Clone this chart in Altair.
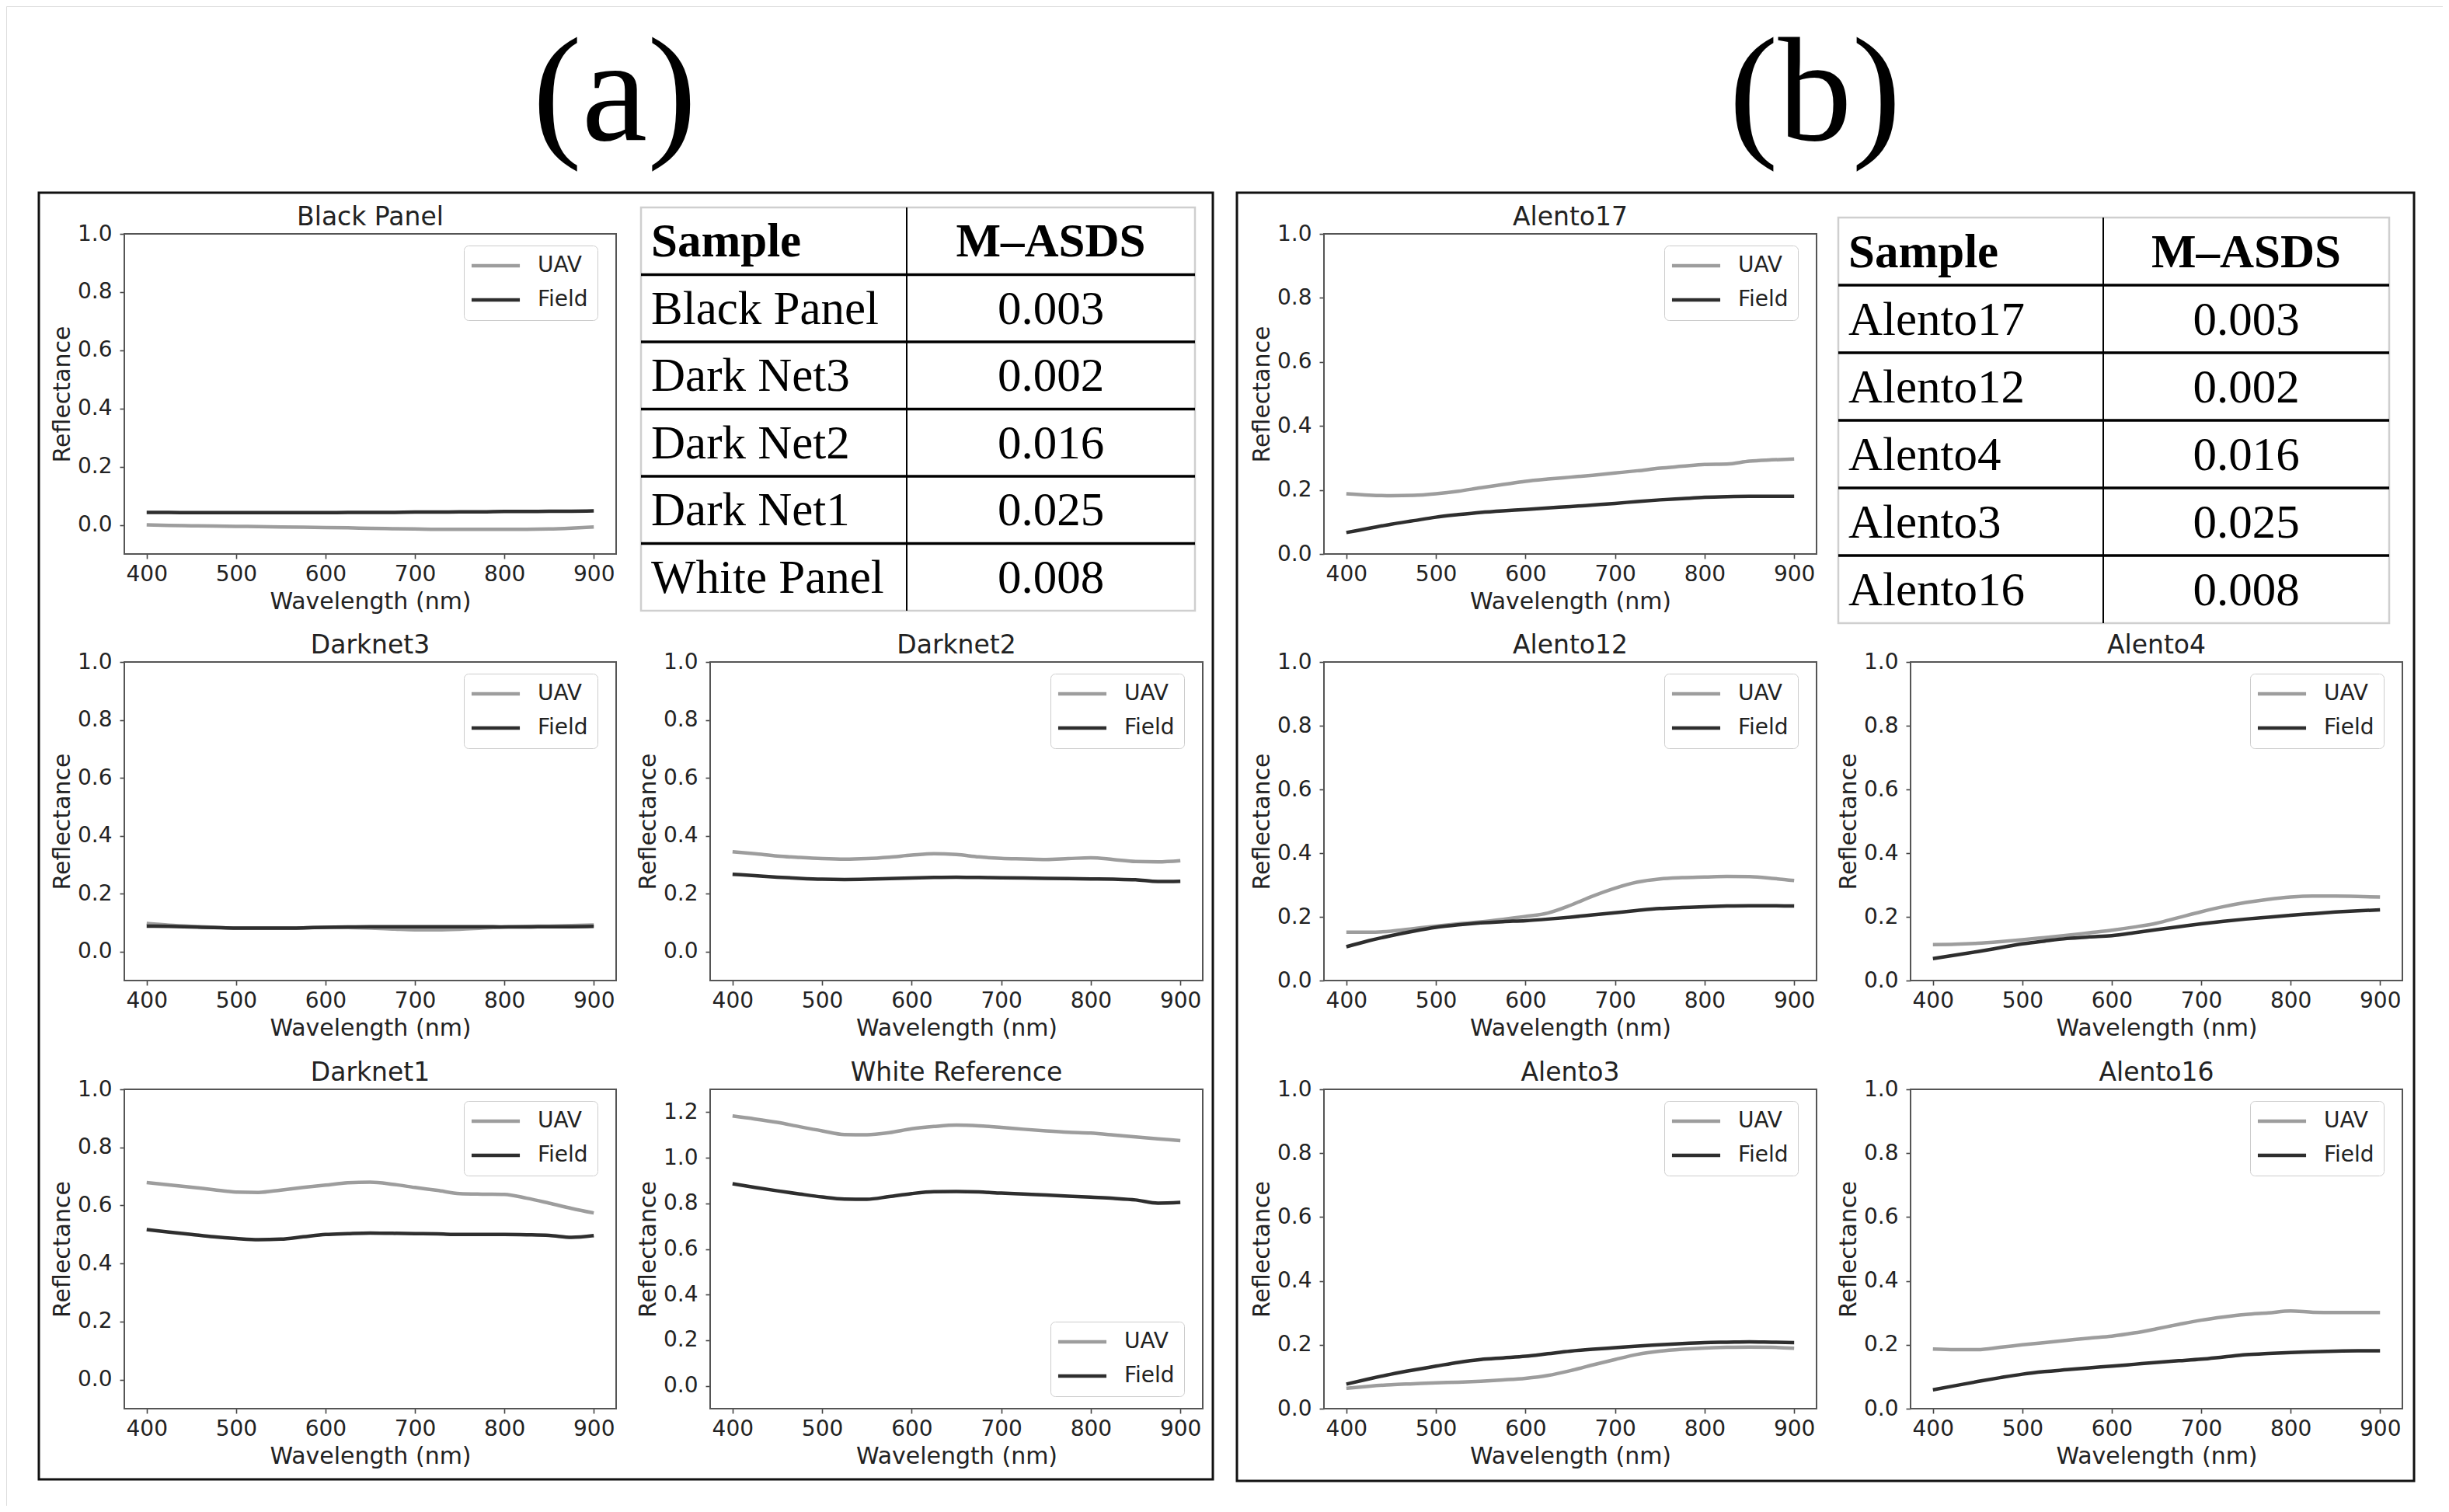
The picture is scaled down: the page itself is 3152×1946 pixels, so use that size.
import altair as alt
import pandas as pd

# ---------------- data ----------------
wavelength = list(range(400, 901, 25))

black_uav = [0.000, -0.002, -0.003, -0.004, -0.005, -0.006, -0.007, -0.008, -0.009, -0.010, -0.012,
             -0.013, -0.014, -0.015, -0.015, -0.015, -0.015, -0.015, -0.014, -0.011, -0.007]
black_field = [0.043, 0.043, 0.042, 0.042, 0.042, 0.042, 0.042, 0.042, 0.042, 0.043, 0.043,
               0.043, 0.044, 0.044, 0.045, 0.045, 0.046, 0.046, 0.047, 0.047, 0.048]

dn3_uav = [0.097, 0.091, 0.087, 0.084, 0.081, 0.081, 0.081, 0.082, 0.084, 0.083, 0.081,
           0.078, 0.075, 0.075, 0.077, 0.081, 0.085, 0.087, 0.088, 0.090, 0.092]
dn3_field = [0.088, 0.087, 0.085, 0.083, 0.081, 0.081, 0.081, 0.082, 0.084, 0.085, 0.086,
             0.086, 0.086, 0.086, 0.086, 0.086, 0.085, 0.085, 0.086, 0.086, 0.087]

dn2_uav = [0.345, 0.338, 0.330, 0.325, 0.321, 0.319, 0.321, 0.326, 0.333, 0.338, 0.335,
           0.327, 0.322, 0.320, 0.318, 0.321, 0.324, 0.318, 0.311, 0.310, 0.314]
dn2_field = [0.267, 0.262, 0.257, 0.253, 0.250, 0.249, 0.250, 0.252, 0.254, 0.256, 0.257,
             0.256, 0.255, 0.254, 0.253, 0.252, 0.251, 0.250, 0.248, 0.242, 0.243]

dn1_uav = [0.679, 0.671, 0.663, 0.654, 0.646, 0.645, 0.653, 0.662, 0.670, 0.678, 0.680,
           0.673, 0.662, 0.652, 0.641, 0.639, 0.638, 0.625, 0.608, 0.590, 0.574]
dn1_field = [0.517, 0.508, 0.500, 0.492, 0.486, 0.482, 0.484, 0.492, 0.500, 0.503, 0.505,
             0.504, 0.503, 0.502, 0.500, 0.500, 0.500, 0.499, 0.497, 0.490, 0.496]

white_uav = [1.183, 1.170, 1.155, 1.136, 1.118, 1.102, 1.101, 1.110, 1.127, 1.137, 1.143,
             1.140, 1.133, 1.125, 1.118, 1.112, 1.108, 1.100, 1.091, 1.083, 1.075]
white_field = [0.886, 0.870, 0.855, 0.841, 0.828, 0.819, 0.818, 0.830, 0.843, 0.851, 0.852,
               0.850, 0.845, 0.841, 0.837, 0.832, 0.827, 0.822, 0.815, 0.801, 0.804]

a17_uav = [0.188, 0.184, 0.182, 0.183, 0.188, 0.196, 0.207, 0.217, 0.227, 0.234, 0.240,
           0.246, 0.253, 0.260, 0.268, 0.274, 0.280, 0.281, 0.290, 0.294, 0.297]
a17_field = [0.067, 0.080, 0.093, 0.104, 0.115, 0.123, 0.130, 0.135, 0.139, 0.144, 0.148,
             0.153, 0.158, 0.164, 0.169, 0.173, 0.177, 0.179, 0.180, 0.180, 0.180]

a12_uav = [0.152, 0.152, 0.155, 0.163, 0.171, 0.178, 0.184, 0.192, 0.201, 0.212, 0.236,
           0.265, 0.290, 0.309, 0.319, 0.323, 0.325, 0.327, 0.326, 0.321, 0.314]
a12_field = [0.106, 0.125, 0.141, 0.155, 0.167, 0.175, 0.181, 0.185, 0.188, 0.193, 0.199,
             0.206, 0.213, 0.220, 0.226, 0.229, 0.232, 0.234, 0.235, 0.235, 0.234]

a4_uav = [0.113, 0.114, 0.117, 0.122, 0.128, 0.135, 0.142, 0.150, 0.158, 0.168, 0.180,
          0.198, 0.216, 0.232, 0.245, 0.255, 0.262, 0.265, 0.265, 0.264, 0.262]
a4_field = [0.069, 0.080, 0.091, 0.103, 0.115, 0.124, 0.132, 0.137, 0.141, 0.150, 0.160,
            0.169, 0.178, 0.186, 0.193, 0.199, 0.205, 0.210, 0.215, 0.219, 0.222]

a3_uav = [0.064, 0.070, 0.075, 0.078, 0.081, 0.083, 0.086, 0.090, 0.095, 0.104, 0.119,
          0.137, 0.154, 0.170, 0.180, 0.186, 0.190, 0.192, 0.193, 0.192, 0.189]
a3_field = [0.077, 0.093, 0.108, 0.121, 0.133, 0.145, 0.154, 0.159, 0.164, 0.172, 0.180,
            0.186, 0.191, 0.196, 0.200, 0.204, 0.207, 0.208, 0.209, 0.208, 0.207]

a16_uav = [0.187, 0.185, 0.185, 0.192, 0.200, 0.207, 0.214, 0.221, 0.227, 0.237, 0.250,
           0.264, 0.277, 0.287, 0.295, 0.300, 0.306, 0.302, 0.301, 0.301, 0.301]
a16_field = [0.059, 0.072, 0.085, 0.097, 0.108, 0.116, 0.122, 0.128, 0.133, 0.139, 0.145,
             0.150, 0.155, 0.162, 0.169, 0.173, 0.176, 0.178, 0.180, 0.181, 0.181]

table_a_samples = ["Black Panel", "Dark Net3", "Dark Net2", "Dark Net1", "White Panel"]
table_b_samples = ["Alento17", "Alento12", "Alento4", "Alento3", "Alento16"]
table_values = ["0.003", "0.002", "0.016", "0.025", "0.008"]

x_ticks = [400, 500, 600, 700, 800, 900]
y_ticks_10 = [0.0, 0.2, 0.4, 0.6, 0.8, 1.0]
y_ticks_12 = [0.0, 0.2, 0.4, 0.6, 0.8, 1.0, 1.2]

# ---------------- layout / style ----------------
W, H = 3136, 1930
M = 8  # page margin
UAV_C = "#9d9d9d"
FIELD_C = "#2e2e2e"
TXT = "#222222"
SPINE = "#555555"
SANS = "DejaVu Sans"
SERIF = "Liberation Serif"
LEG_W, LEG_H = 180, 96

COLS = {"A1": (160, 793), "A2": (914, 1548), "B1": (1704, 2338), "B2": (2459, 3092)}
ROWS = [(301, 713), (852, 1262), (1402, 1813)]

one = pd.DataFrame({"k": [0]})


def panel(title, uav, field, col, row, ydom, yticks, legend_bottom=False):
    px0, px1 = COLS[col]
    py0, py1 = ROWS[row]
    x0, x1, y0, y1 = px0 - M, px1 - M, py0 - M, py1 - M
    n = len(wavelength)
    df = pd.DataFrame({
        "wl": wavelength + wavelength,
        "refl": uav + field,
        "series": ["UAV"] * n + ["Field"] * n,
    })
    xs = alt.Scale(domain=[375, 925], range=[x0, x1], nice=False, zero=False)
    ys = alt.Scale(domain=ydom, range=[y1, y0], nice=False, zero=False)
    lx = x1 - 16 - LEG_W
    ly = (y1 - 16 - LEG_H) if legend_bottom else (y0 + 15)

    lines = alt.Chart(df).mark_line(strokeWidth=4.5, interpolate="monotone").encode(
        x=alt.X("wl:Q", scale=xs, axis=alt.Axis(
            orient="bottom", offset=y1 - H, values=x_ticks, format="d",
            title="Wavelength (nm)", grid=False, domain=False,
            tickColor="#444444", tickWidth=1.6, tickSize=6,
            labelFont=SANS, labelFontSize=28, labelColor=TXT, labelPadding=6,
            labelFlush=False, labelOverlap=False,
            titleFont=SANS, titleFontSize=30, titleFontWeight="normal",
            titleColor=TXT, titlePadding=6)),
        y=alt.Y("refl:Q", scale=ys, axis=alt.Axis(
            orient="left", offset=-x0, values=yticks, format=".1f",
            title="Reflectance", grid=False, domain=False,
            tickColor="#444444", tickWidth=1.6, tickSize=6,
            labelFont=SANS, labelFontSize=28, labelColor=TXT, labelPadding=10,
            labelFlush=False, labelOverlap=False,
            titleFont=SANS, titleFontSize=30, titleFontWeight="normal",
            titleColor=TXT, titlePadding=4)),
        color=alt.Color("series:N",
                        scale=alt.Scale(domain=["UAV", "Field"], range=[UAV_C, FIELD_C]),
                        legend=alt.Legend(
                            orient="none", legendX=lx, legendY=ly, title=None,
                            symbolType="M-2.7,0H2.7", symbolSize=529, symbolStrokeWidth=4.5,
                            symbolOffset=15, labelOffset=40,
                            labelFont=SANS, labelFontSize=28, labelColor=TXT,
                            padding=12, rowPadding=16,
                            strokeColor="#cccccc", fillColor="white", cornerRadius=6)),
    )
    frame = alt.Chart(one).mark_rect(fillOpacity=0, stroke=SPINE, strokeWidth=2).encode(
        x=alt.XDatum(375), x2=alt.X2Datum(925),
        y=alt.YDatum(ydom[0]), y2=alt.Y2Datum(ydom[1]),
    )
    ttl = alt.Chart(one).mark_text(
        text=title, font=SANS, fontSize=33, color=TXT, baseline="alphabetic", dy=-11
    ).encode(
        x=alt.XDatum(650),
        y=alt.YDatum(ydom[1]),
    )
    return alt.layer(lines, frame, ttl)


def table(samples, values, px0, px1, py0, py1, pdiv):
    x0, x1, y0, y1 = px0 - M, px1 - M, py0 - M, py1 - M
    xs = alt.Scale(domain=[0, 1], range=[x0, x1], nice=False, zero=False)
    ys = alt.Scale(domain=[0, 6], range=[y0, y1], nice=False, zero=False)
    fdiv = (pdiv - px0) / (px1 - px0)
    fname = 13 / (px1 - px0)
    fval = (fdiv + 1) / 2

    border = alt.Chart(one).mark_rect(fillOpacity=0, stroke="#cfcfcf", strokeWidth=2.5).encode(
        x=alt.XDatum(0, scale=xs, axis=None), x2=alt.X2Datum(1),
        y=alt.YDatum(0, scale=ys, axis=None), y2=alt.Y2Datum(6),
    )
    hl = pd.DataFrame({"r": [1, 2, 3, 4, 5]})
    hlines = alt.Chart(hl).mark_rule(stroke="black", strokeWidth=3.5).encode(
        x=alt.XDatum(0, scale=xs, axis=None), x2=alt.X2Datum(1),
        y=alt.Y("r:Q", scale=ys, axis=None),
    )
    vline = alt.Chart(one).mark_rule(stroke="black", strokeWidth=2).encode(
        x=alt.XDatum(fdiv, scale=xs, axis=None),
        y=alt.YDatum(0, scale=ys, axis=None), y2=alt.Y2Datum(6),
    )
    head = pd.DataFrame({"r": [0.5, 0.5], "c": [fname, fval], "t": ["Sample", "M\u2013ASDS"]})
    head_l = alt.Chart(head.iloc[[0]]).mark_text(
        font=SERIF, fontSize=61, fontWeight="bold", color="black", align="left",
        baseline="alphabetic", dy=20).encode(
        x=alt.X("c:Q", scale=xs, axis=None), y=alt.Y("r:Q", scale=ys, axis=None), text="t:N")
    head_r = alt.Chart(head.iloc[[1]]).mark_text(
        font=SERIF, fontSize=61, fontWeight="bold", color="black", align="center",
        baseline="alphabetic", dy=20).encode(
        x=alt.X("c:Q", scale=xs, axis=None), y=alt.Y("r:Q", scale=ys, axis=None), text="t:N")
    rows = pd.DataFrame({"r": [1.5, 2.5, 3.5, 4.5, 5.5], "name": samples, "val": values,
                         "cn": [fname] * 5, "cv": [fval] * 5})
    names = alt.Chart(rows).mark_text(
        font=SERIF, fontSize=61, color="black", align="left", baseline="alphabetic", dy=20).encode(
        x=alt.X("cn:Q", scale=xs, axis=None), y=alt.Y("r:Q", scale=ys, axis=None), text="name:N")
    vals = alt.Chart(rows).mark_text(
        font=SERIF, fontSize=61, color="black", align="center", baseline="alphabetic", dy=20).encode(
        x=alt.X("cv:Q", scale=xs, axis=None), y=alt.Y("r:Q", scale=ys, axis=None), text="val:N")
    return alt.layer(border, hlines, vline, head_l, head_r, names, vals)


def box(px0, px1, py0, py1):
    return alt.Chart(one).mark_rect(fillOpacity=0, stroke="#111111", strokeWidth=3).encode(
        x=alt.value(px0 - M), x2=alt.value(px1 - M), y=alt.value(py0 - M), y2=alt.value(py1 - M))


def big_label(txt, px, py):
    return alt.Chart(one).mark_text(
        text=txt, font=SERIF, fontSize=190, color="black", align="center", baseline="alphabetic"
    ).encode(x=alt.value(px - M), y=alt.value(py - M))


layers = [
    box(50, 1561, 248, 1904),
    box(1592, 3107, 248, 1906),
    big_label("(a)", 791, 180),
    big_label("(b)", 2336, 180),
    panel("Black Panel", black_uav, black_field, "A1", 0, [-0.1, 1.0], y_ticks_10),
    panel("Darknet3", dn3_uav, dn3_field, "A1", 1, [-0.1, 1.0], y_ticks_10),
    panel("Darknet2", dn2_uav, dn2_field, "A2", 1, [-0.1, 1.0], y_ticks_10),
    panel("Darknet1", dn1_uav, dn1_field, "A1", 2, [-0.1, 1.0], y_ticks_10),
    panel("White Reference", white_uav, white_field, "A2", 2, [-0.1, 1.3], y_ticks_12, legend_bottom=True),
    panel("Alento17", a17_uav, a17_field, "B1", 0, [0.0, 1.0], y_ticks_10),
    panel("Alento12", a12_uav, a12_field, "B1", 1, [0.0, 1.0], y_ticks_10),
    panel("Alento4", a4_uav, a4_field, "B2", 1, [0.0, 1.0], y_ticks_10),
    panel("Alento3", a3_uav, a3_field, "B1", 2, [0.0, 1.0], y_ticks_10),
    panel("Alento16", a16_uav, a16_field, "B2", 2, [0.0, 1.0], y_ticks_10),
    table(table_a_samples, table_values, 825, 1538, 267, 786, 1167),
    table(table_b_samples, table_values, 2366, 3075, 280, 802, 2707),
]

chart = alt.layer(*layers).resolve_scale(
    x="independent", y="independent", color="independent"
).properties(
    width=W, height=H, padding=0, autosize=alt.AutoSizeParams(type="none")
).configure_view(strokeWidth=0).configure(background="white")

chart.save("out.html", embed_options={"renderer": "svg", "actions": False})
